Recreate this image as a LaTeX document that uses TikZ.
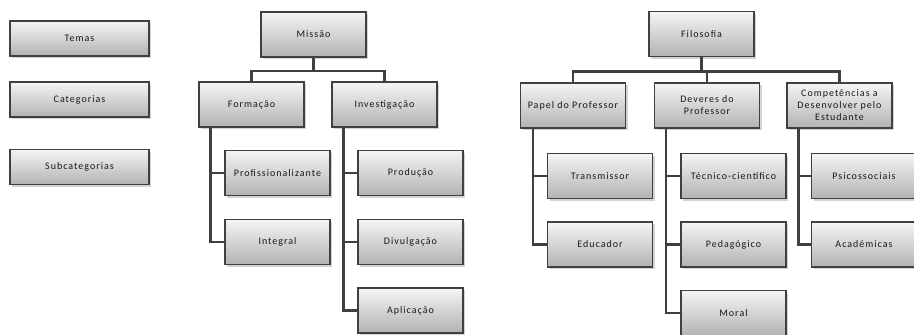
\documentclass[tikz,border=0pt]{standalone}
\usepackage{fontspec}
\setmainfont{Carlito}[LetterSpace=10]
\usetikzlibrary{shadows}

\tikzset{
    caixa/.style={draw=black!75, line width=1.8pt, top color=gray!8, bottom color=gray!60,
        drop shadow={shadow xshift=2pt, shadow yshift=-2pt, opacity=0.35},
        minimum width=105pt, minimum height=45pt, inner sep=1pt, align=center,
        font=\fontsize{10}{12}\selectfont, text=black!90},
    legenda/.style={caixa, minimum width=139pt, minimum height=35pt},
    ligacao/.style={draw=black!75, line width=2.8pt}
}

\begin{document}
\begin{tikzpicture}[x=1pt, y=-1pt]
    \useasboundingbox (0,0) rectangle (914,335);

    % Legenda: temas, categorias e subcategorias
    \foreach \nome/\y [count=\i] in {Temas/38.5, Categorias/99.5, Subcategorias/167}
        \node[legenda] (leg\i) at (79.5,\y) {\nome};

    % Tema Missão
    \node[caixa] (missao) at (313.5,34.5) {Missão};
    \node[caixa] (formacao) at (251.5,104.5) {Formação};
    \node[caixa] (investigacao) at (384.5,104.5) {Investigação};
    \foreach \nome/\y [count=\i] in {Profissionalizante/173, Integral/242}
        \node[caixa] (form\i) at (277.5,\y) {\nome};
    \foreach \nome/\y [count=\i] in {Produção/173, Divulgação/242, Aplicação/310.5}
        \node[caixa] (inv\i) at (410.5,\y) {\nome};

    % Tema Filosofia
    \node[caixa] (filosofia) at (701.5,34) {Filosofia};
    \node[caixa] (papel) at (573,105.5) {Papel do Professor};
    \node[caixa] (deveres) at (707,105.5) {Deveres do\\Professor};
    \node[caixa] (competencias) at (839.5,105.5) {Competências a\\Desenvolver pelo\\Estudante};
    \foreach \nome/\y [count=\i] in {Transmissor/176, Educador/244.5}
        \node[caixa] (pap\i) at (600,\y) {\nome};
    \foreach \nome/\y [count=\i] in {Técnico-científico/176, Pedagógico/244.5, Moral/313}
        \node[caixa] (dev\i) at (733.5,\y) {\nome};
    \foreach \nome/\y [count=\i] in {Psicossociais/176, Académicas/244.5}
        \node[caixa] (comp\i) at (864,\y) {\nome};

    % Temas ligados às categorias
    \foreach \filho in {formacao, investigacao}
        \draw[ligacao] (missao.south) -- ++(0,13) -| (\filho.north);
    \foreach \filho in {papel, deveres, competencias}
        \draw[ligacao] (filosofia.south) -- ++(0,14) -| (\filho.north);

    % Categorias ligadas às subcategorias
    \foreach \i in {1,2} {
        \draw[ligacao] ([xshift=-41pt]formacao.south) |- (form\i.west);
        \draw[ligacao] ([xshift=-40pt]papel.south) |- (pap\i.west);
        \draw[ligacao] ([xshift=-41pt]competencias.south) |- (comp\i.west);
    }
    \foreach \i in {1,2,3} {
        \draw[ligacao] ([xshift=-41pt]investigacao.south) |- (inv\i.west);
        \draw[ligacao] ([xshift=-41pt]deveres.south) |- (dev\i.west);
    }
\end{tikzpicture}
\end{document}
